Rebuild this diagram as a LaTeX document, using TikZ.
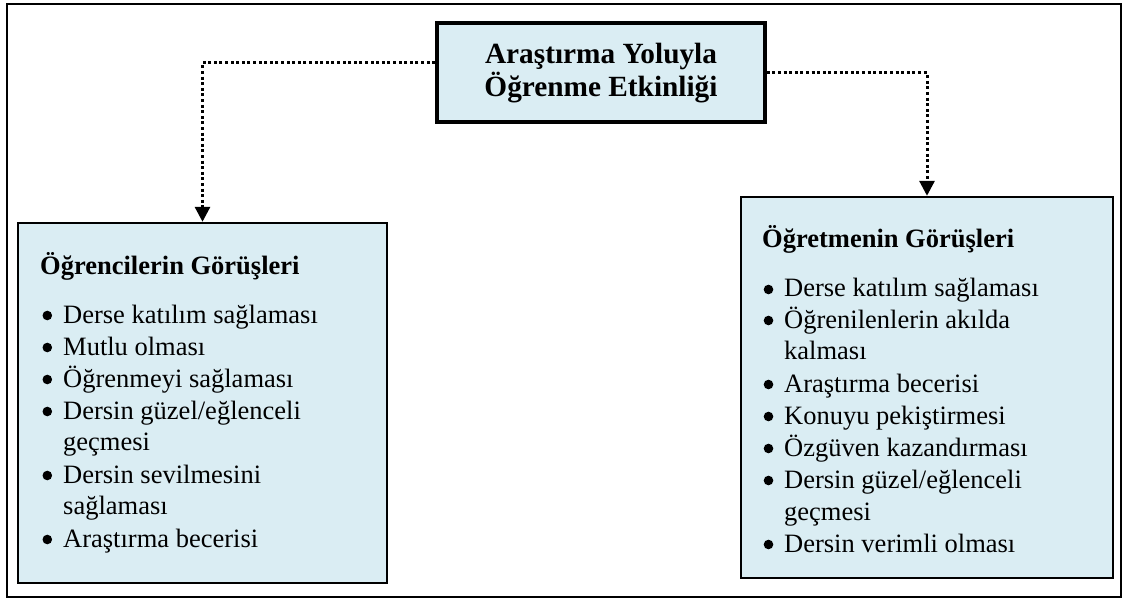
\documentclass[tikz,border=0pt]{standalone}
\usepackage{fontspec}
\setmainfont{Liberation Serif}
\usetikzlibrary{arrows.meta}
\definecolor{boxfill}{HTML}{DAEDF3}
\tikzset{
  panel/.style={draw=black, fill=boxfill, line width=2.4pt, inner sep=0pt},
  titlebox/.style={draw=black, fill=boxfill, line width=3.6pt, inner sep=0pt},
  conn/.style={line width=3pt, dash pattern=on 3pt off 2.6pt, -{Triangle[width=15pt,length=15pt]}},
  head/.style={anchor=base west, inner sep=0pt, font=\fontsize{26.5}{32}\selectfont\bfseries},
  item/.style={anchor=base west, inner sep=0pt, font=\fontsize{26.5}{32}\selectfont},
  ttl/.style={anchor=base, inner sep=0pt, font=\fontsize{29.3}{34}\selectfont\bfseries},
  dot/.style={fill=black}
}
\begin{document}
\begin{tikzpicture}[x=1pt,y=-1pt]
\useasboundingbox (0,0) rectangle (1123,601);
\node[draw=black, line width=2pt, minimum width=1114pt, minimum height=593pt, inner sep=0pt] (frame) at (564,300.5) {};
% boxes
\node[titlebox, minimum width=328pt, minimum height=99pt] (top) at (601,72.5) {};
\node[panel, minimum width=369pt, minimum height=360pt] (left) at (202.5,403) {};
\node[panel, minimum width=372pt, minimum height=381pt] (right) at (927,387.5) {};
% title
\node[ttl] (t1) at (601,64) {Araştırma Yoluyla};
\node[ttl] (t2) at (601,97) {Öğrenme Etkinliği};
% left content
\node[head] (lh) at (40,275) {Öğrencilerin Görüşleri};
\node[item] (l1) at (63,323) {Derse katılım sağlaması};
\node[item] (l2) at (63,355) {Mutlu olması};
\node[item] (l3) at (63,387) {Öğrenmeyi sağlaması};
\node[item] (l4) at (63,419) {Dersin güzel/eğlenceli};
\node[item] (l4b) at (63,450) {geçmesi};
\node[item] (l5) at (63,483) {Dersin sevilmesini};
\node[item] (l5b) at (63,514) {sağlaması};
\node[item] (l6) at (63,547) {Araştırma becerisi};
\foreach \yy in {323,355,387,419,483,547} \fill[dot] (47.3,\yy-7.5) circle (4.8pt);
% right content
\node[head] (rh) at (762,248) {Öğretmenin Görüşleri};
\node[item] (r1) at (784,297) {Derse katılım sağlaması};
\node[item] (r2) at (784,328) {Öğrenilenlerin akılda};
\node[item] (r2b) at (784,359) {kalması};
\node[item] (r3) at (784,392) {Araştırma becerisi};
\node[item] (r4) at (784,424) {Konuyu pekiştirmesi};
\node[item] (r5) at (784,456) {Özgüven kazandırması};
\node[item] (r6) at (784,488) {Dersin güzel/eğlenceli};
\node[item] (r6b) at (784,520) {geçmesi};
\node[item] (r7) at (784,552) {Dersin verimli olması};
\foreach \yy in {297,328,392,424,456,488,552} \fill[dot] (768.5,\yy-7.5) circle (4.8pt);
% connectors
\draw[conn] ([yshift=9.5pt]top.west) -| (left.north);
\draw[conn] ([yshift=-0.5pt]top.east) -| (right.north);
\end{tikzpicture}
\end{document}
